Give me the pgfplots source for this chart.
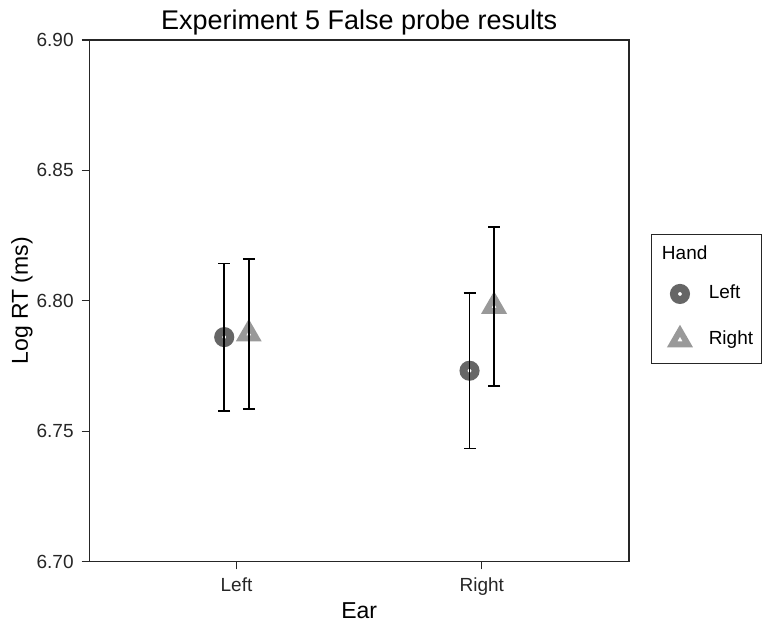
\documentclass[border=0pt]{standalone}
\usepackage{pgfplots}
\pgfplotsset{compat=1.18}
\usepackage{fontspec}
\setmainfont{Liberation Sans}
\definecolor{darkg}{gray}{0.4}
\definecolor{lightg}{gray}{0.6}
\pgfplotstableread{
x y e
0.95 6.7861 0.0283
1.95 6.7732 0.0298
}\handleft
\pgfplotstableread{
x y e
1.05 6.7873 0.0287
2.05 6.7979 0.0305
}\handright
\begin{document}
\begin{tikzpicture}
\begin{axis}[
  set layers=standard,
  at={(44.65pt,31.15pt)}, anchor=south west,
  scale only axis, width=269.85pt, height=260.85pt,
  clip=false,
  xmin=0.4, xmax=2.6, ymin=6.70, ymax=6.90,
  xtick={1,2}, xticklabels={Left,Right},
  ytick={6.70,6.75,6.80,6.85,6.90},
  yticklabels={6.70,6.75,6.80,6.85,6.90},
  xtick pos=bottom, ytick pos=left, tick align=outside,
  major tick length=3.8pt,
  axis line style={line width=0.7pt, black!85},
  every tick/.style={line width=0.6pt, black!85},
  ticklabel style={font=\fontsize{9.5}{11}\selectfont, black!85, inner sep=0pt},
  xticklabel style={anchor=base, yshift=-11.2pt},
  yticklabel style={anchor=east, xshift=-3.85pt},
  title={Experiment 5 False probe results},
  every axis title shift=0pt,
  title style={font=\fontsize{13.5}{16}\selectfont, at={(axis description cs:0.5,1.0192)}, anchor=base, inner sep=0pt},
  xlabel={Ear},
  xlabel style={font=\fontsize{11.5}{14}\selectfont, at={(axis description cs:0.5,-0.1096)}, anchor=base, inner sep=0pt},
  ylabel={Log RT (ms)},
  ylabel style={font=\fontsize{11.5}{14}\selectfont, at={(axis description cs:-0.1247,0.5)}, anchor=center, inner sep=0pt},
  legend style={draw=none, fill=none, inner sep=0pt, outer sep=0pt,
    at={(axis description cs:1.155,0.4693)}, anchor=center,
    font=\fontsize{9.5}{11}\selectfont, row sep=13.9pt, column sep=0pt,
    nodes={inner sep=0pt, text height=7pt, text depth=2pt}},
  legend cell align=left,
  /tikz/every odd column/.append style={column sep=10.5pt},
]
\addplot[only marks, mark=*, mark size=3pt,
  mark options={fill=white, draw=darkg, line width=4pt}]
  table[x=x, y=y] {\handleft};
\addlegendentry{Left}
\addplot[only marks, mark=triangle*, mark size=4.5pt,
  mark options={fill=white, draw=lightg, line width=3pt}]
  table[x=x, y=y] {\handright};
\addlegendentry{Right}
\addplot[on layer=axis foreground, draw=none, mark=none, forget plot,
  error bars/.cd, y dir=both, y explicit, error mark=|,
  error bar style={draw=black, solid, line width=0.75pt},
  error mark options={draw=black, solid, mark size=3pt, line width=0.75pt}]
  table[x=x, y=y, y error=e] {\handleft};
\addplot[on layer=axis foreground, draw=none, mark=none, forget plot,
  error bars/.cd, y dir=both, y explicit, error mark=|,
  error bar style={draw=black, solid, line width=0.75pt},
  error mark options={draw=black, solid, mark size=3pt, line width=0.75pt}]
  table[x=x, y=y, y error=e] {\handright};
\draw[line width=0.5pt, black!85] (axis description cs:1.042,0.6262) rectangle (axis description cs:1.2446,0.379);
\node[anchor=west, inner sep=0pt, font=\fontsize{9.5}{11}\selectfont] at (axis description cs:1.0604,0.5917) {Hand};
\end{axis}
\pgfresetboundingbox
\useasboundingbox (0,0) rectangle (381pt,312pt);
\end{tikzpicture}
\end{document}
